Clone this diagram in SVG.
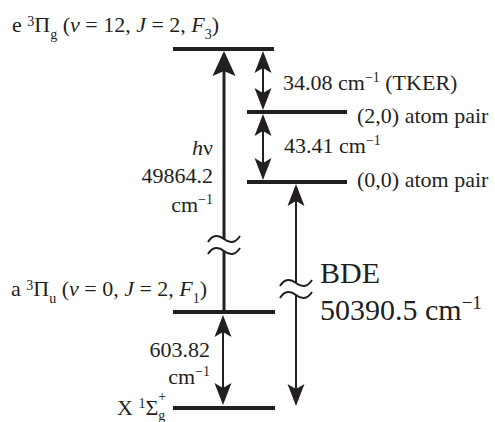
<svg xmlns="http://www.w3.org/2000/svg" width="495" height="422" viewBox="0 0 495 422">
<style>
text{font-family:"Liberation Serif","Times New Roman",serif;font-size:22px;fill:#231f20}
.big{font-size:30px}
.sup{font-size:14px}
.it{font-style:italic}
.lvl{stroke:#231f20;stroke-width:4;fill:none}
.ar{stroke:#231f20;stroke-width:2;fill:none}
.arb{stroke:#231f20;stroke-width:3;fill:none}
.brk{stroke:#231f20;stroke-width:2;fill:none}
</style>
<defs>
<marker id="ahs" viewBox="0 -9 22 18" refX="19" refY="0" markerWidth="22" markerHeight="18" markerUnits="userSpaceOnUse" orient="auto-start-reverse"><path d="M0,-8.5 L22,0 L0,8.5 L5,0 Z" fill="#231f20"/></marker>
<marker id="ahb" viewBox="0 -12 25 24" refX="22" refY="0" markerWidth="25" markerHeight="24" markerUnits="userSpaceOnUse" orient="auto-start-reverse"><path d="M0,-11.5 L25,0 L0,11.5 L5,0 Z" fill="#231f20"/></marker>
<path id="tilde" d="M-16,3 C-11,-5 -5,-4 0,0 C5,4 11,5 16,-3"/>
</defs>

<g id="level-e">
<line class="lvl" x1="173" y1="49" x2="274" y2="49"/>
<text x="12" y="32">e <tspan class="sup" dy="-6">3</tspan><tspan dy="6">Π</tspan><tspan class="sup" dy="7">g</tspan><tspan dy="-7"> (</tspan><tspan class="it">v</tspan> = 12, <tspan class="it">J</tspan> = 2, <tspan class="it">F</tspan><tspan class="sup" dy="7">3</tspan><tspan dy="-7">)</tspan></text>
</g>
<g id="level-20">
<line class="lvl" x1="247" y1="112" x2="347" y2="112"/>
<text x="357" y="123">(2,0) atom pair</text>
</g>
<g id="level-00">
<line class="lvl" x1="247" y1="182" x2="347" y2="182"/>
<text x="357" y="187">(0,0) atom pair</text>
</g>
<g id="level-a">
<line class="lvl" x1="173" y1="312" x2="275" y2="312"/>
<text x="11" y="296">a <tspan class="sup" dy="-6">3</tspan><tspan dy="6">Π</tspan><tspan class="sup" dy="7">u</tspan><tspan dy="-7"> (</tspan><tspan class="it">v</tspan> = 0, <tspan class="it">J</tspan> = 2, <tspan class="it">F</tspan><tspan class="sup" dy="7">1</tspan><tspan dy="-7">)</tspan></text>
</g>
<g id="level-X">
<line class="lvl" x1="173" y1="408" x2="275" y2="408"/>
<text x="117" y="415">X <tspan class="sup" dy="-7">1</tspan><tspan dy="7">Σ</tspan><tspan class="sup" dy="5">g</tspan><tspan class="sup" dx="-7" dy="-19">+</tspan></text>
</g>

<g id="connectors">
<line class="arb" x1="224" y1="312" x2="224" y2="251"/>
<line class="arb" x1="224" y1="239" x2="224" y2="54" marker-end="url(#ahb)"/>
<use href="#tilde" class="brk" x="224" y="239"/>
<use href="#tilde" class="brk" x="224" y="251"/>
<line class="ar" x1="263" y1="54" x2="263" y2="107" marker-start="url(#ahs)" marker-end="url(#ahs)"/>
<line class="ar" x1="263" y1="117" x2="263" y2="177" marker-start="url(#ahs)" marker-end="url(#ahs)"/>
<line class="ar" x1="223" y1="318" x2="223" y2="402" marker-start="url(#ahs)" marker-end="url(#ahs)"/>
<line class="ar" x1="296" y1="283" x2="296" y2="187" marker-end="url(#ahs)"/>
<line class="ar" x1="296" y1="295" x2="296" y2="403" marker-end="url(#ahs)"/>
<use href="#tilde" class="brk" x="296" y="283"/>
<use href="#tilde" class="brk" x="296" y="295"/>
</g>

<g id="labels">
<text x="283" y="90">34.08 cm<tspan class="sup" dy="-8">−1</tspan><tspan dy="8"> (TKER)</tspan></text>
<text x="284" y="153">43.41 cm<tspan class="sup" dy="-8">−1</tspan></text>
<text x="213" y="155" text-anchor="end"><tspan class="it">h</tspan>ν</text>
<text x="213" y="183" text-anchor="end">49864.2</text>
<text x="213" y="212" text-anchor="end">cm<tspan class="sup" dy="-8">−1</tspan></text>
<text x="210" y="357" text-anchor="end">603.82</text>
<text x="210" y="384" text-anchor="end">cm<tspan class="sup" dy="-8">−1</tspan></text>
<text class="big" x="320" y="283">BDE</text>
<text class="big" x="320" y="320">50390.5 cm<tspan style="font-size:19px" dy="-11">−1</tspan></text>
</g>
</svg>
